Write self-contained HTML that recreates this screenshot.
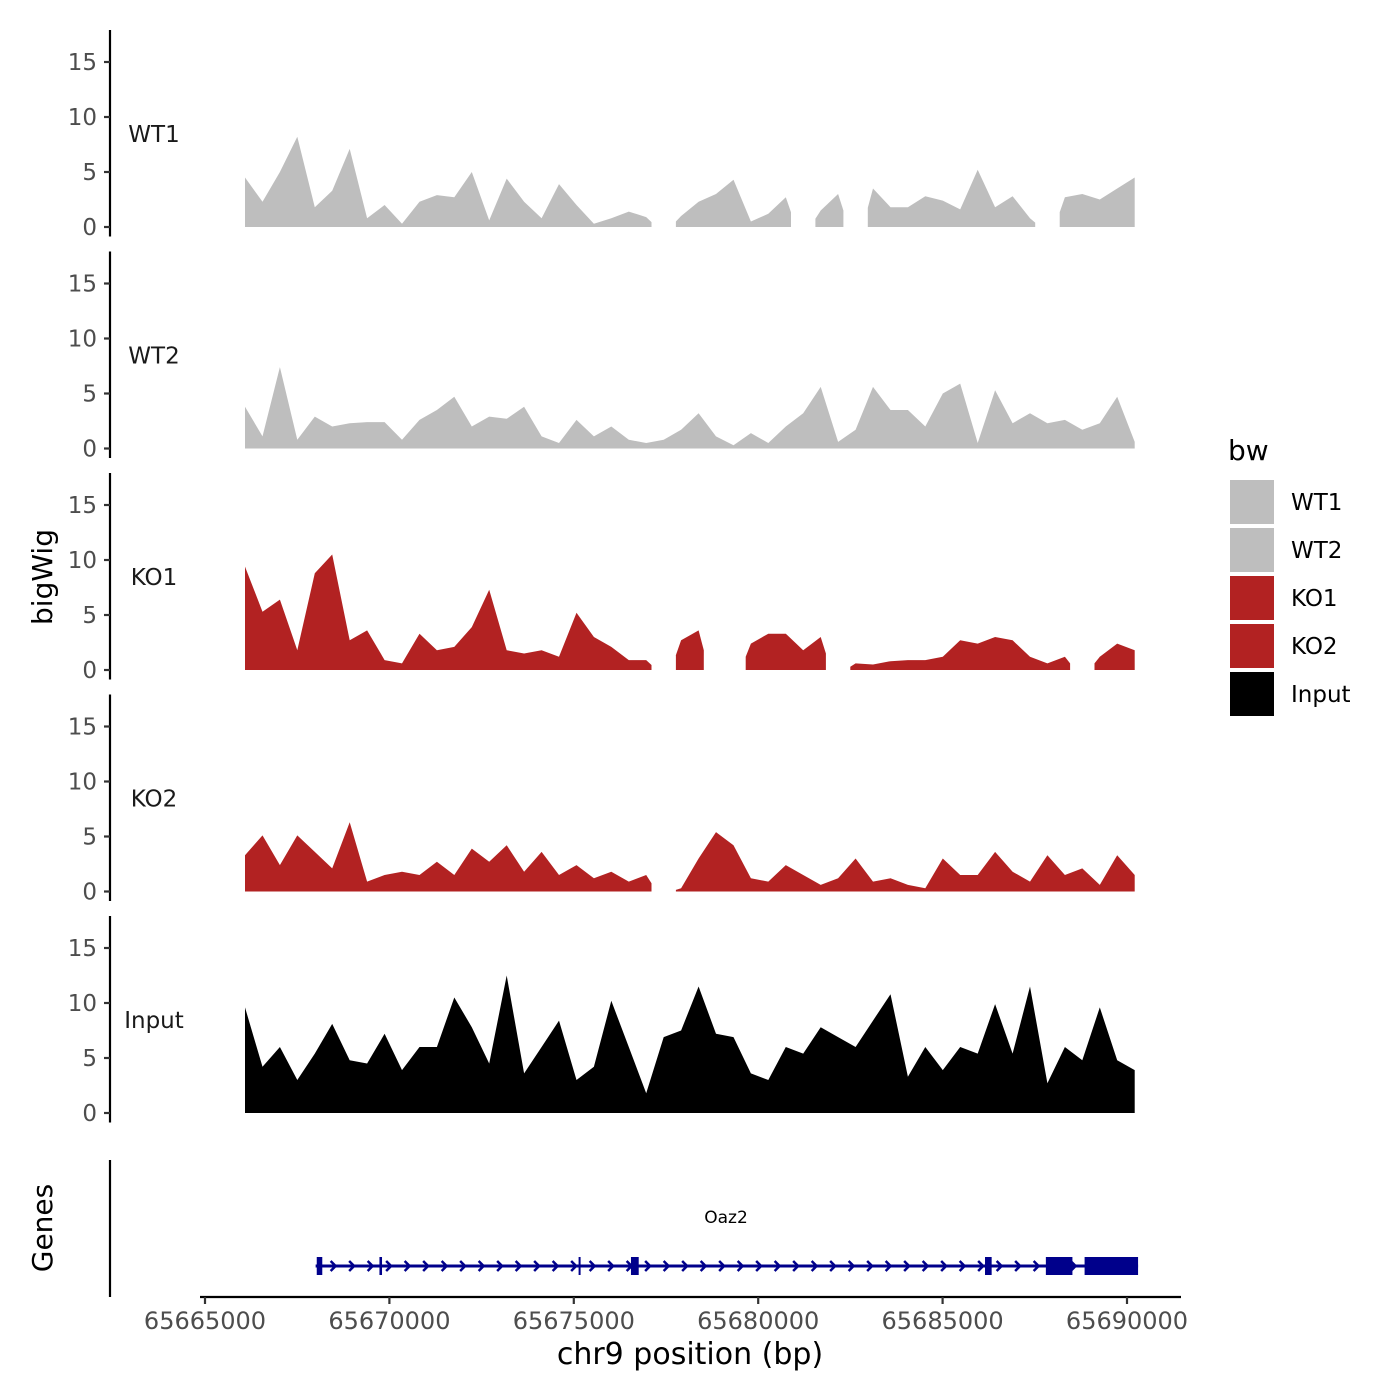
<!DOCTYPE html>
<html><head><meta charset="utf-8">
<style>
html,body{margin:0;padding:0;background:#fff;}
svg{display:block;font-family:"DejaVu Sans","Liberation Sans",sans-serif;}
</style></head>
<body>
<svg id="chart" width="1400" height="1400" viewBox="0 0 1400 1400" xmlns="http://www.w3.org/2000/svg">
<rect width="1400" height="1400" fill="#fff"/>
<g id="tracks"></g>
<g id="genes"></g>
<g id="xaxis"></g>
<text x="52" y="577" font-size="28" text-anchor="middle" transform="rotate(-90 52 577)">bigWig</text>
<text x="52" y="1228" font-size="28" text-anchor="middle" transform="rotate(-90 52 1228)">Genes</text>
<text x="690" y="1364" font-size="30" text-anchor="middle">chr9 position (bp)</text>
<g id="legend"></g>
</svg>
<script>
// ---- data ----
const trackNames = ["WT1","WT2","KO1","KO2","Input"];
const trackColors = ["#bebebe","#bebebe","#b22222","#b22222","#000000"];
const binStart = 65666085;
const binSize = 473;
const wt1 = [4.5,2.3,5,8.2,1.8,3.3,7.1,0.8,2,0.3,2.3,2.9,2.7,5.0,0.6,4.4,2.3,0.8,3.9,2.0,0.3,0.8,1.4,0.9,null,1.0,2.3,3.0,4.3,0.5,1.2,2.7,null,1.5,3.0,null,3.5,1.8,1.8,2.8,2.4,1.6,5.2,1.8,2.8,0.8,null,2.7,3.0,2.5,3.5,4.5];
const wt2 = [3.8,1.1,7.4,0.8,2.9,2.0,2.3,2.4,2.4,0.8,2.6,3.5,4.7,2.0,2.9,2.7,3.8,1.1,0.5,2.6,1.1,2.0,0.8,0.5,0.8,1.7,3.2,1.1,0.3,1.4,0.5,2.0,3.2,5.6,0.6,1.7,5.6,3.5,3.5,2.0,5.0,5.9,0.5,5.3,2.3,3.2,2.3,2.6,1.7,2.3,4.7,0.6];
const ko1 = [9.4,5.3,6.4,1.8,8.8,10.5,2.7,3.6,0.9,0.6,3.3,1.8,2.1,3.9,7.3,1.8,1.5,1.8,1.2,5.2,3.0,2.1,0.9,0.9,null,2.7,3.6,null,null,2.4,3.3,3.3,1.8,3.0,null,0.6,0.5,0.8,0.9,0.9,1.2,2.7,2.4,3.0,2.7,1.2,0.6,1.2,null,1.2,2.4,1.8];
const ko2 = [3.3,5.1,2.4,5.1,3.6,2.1,6.3,0.9,1.5,1.8,1.5,2.7,1.5,3.9,2.7,4.2,1.8,3.6,1.5,2.4,1.2,1.8,0.9,1.5,null,0.3,3.0,5.4,4.2,1.2,0.9,2.4,1.5,0.6,1.2,3.0,0.9,1.2,0.6,0.3,3.0,1.5,1.5,3.6,1.8,0.9,3.3,1.5,2.1,0.6,3.3,1.5];
const input = [9.6,4.2,6.0,3.0,5.4,8.1,4.8,4.5,7.2,3.9,6.0,6.0,10.5,7.8,4.5,12.5,3.6,6.0,8.4,3.0,4.2,10.2,6.0,1.8,6.9,7.5,11.5,7.2,6.9,3.6,3.0,6.0,5.4,7.8,6.9,6.0,8.4,10.8,3.3,6.0,3.9,6.0,5.4,9.9,5.4,11.5,2.7,6.0,4.8,9.6,4.8,3.9];
const trackValues = [wt1,wt2,ko1,ko2,input];
const yTicks = [0,5,10,15];
const xTicks = [65665000,65670000,65675000,65680000,65685000,65690000];
const xTickLabels = ["65665000","65670000","65675000","65680000","65685000","65690000"];
const geneStart = 65668000;
const geneEnd = 65690300;
const exonStarts = [65668030,65669730,65675130,65676550,65686150,65687800,65688850];
const exonEnds   = [65668180,65669800,65675170,65676760,65686330,65688520,65690300];

// ---- scales ----
const X0 = 205, X1 = 1127;
function xs(bp){ return X0 + (bp - 65665000) * (X1 - X0) / 25000; }
const panelZero = [227, 448.5, 670, 891.5, 1113];
function ys(p, v){ return panelZero[p] - v * 11; }
const stepPx = xs(binStart + binSize) - xs(binStart);

const NS = "http://www.w3.org/2000/svg";
function mk(tag, attrs, parent){
  const e = document.createElementNS(NS, tag);
  for (const k in attrs) e.setAttribute(k, attrs[k]);
  parent.appendChild(e); return e;
}
const tracks = document.getElementById('tracks');
trackNames.forEach((name, p) => {
  const g = mk('g', {}, tracks);
  
  
  const ax = mk('line', {x1:110, x2:110, y1:panelZero[p]-197, y2:panelZero[p]+9.5, stroke:'#000', 'stroke-width':2.2}, g);
  
  
  yTicks.forEach(t => {
    const tk = mk('line', {x1:104, x2:110, y1:ys(p,t), y2:ys(p,t), stroke:'#333', 'stroke-width':2.2}, g);
    
    
    const tl = mk('text', {x:97, y:ys(p,t)+8, 'font-size':23, fill:'#4d4d4d', 'text-anchor':'end'}, g);
    tl.textContent = t;
    
    
  });
  const lab = mk('text', {x:154, y:panelZero[p]-85, 'font-size':23, fill:'#1a1a1a', 'text-anchor':'middle'}, g);
  lab.textContent = name;
  
  
  const vals = trackValues[p];
  const n = vals.length;
  let seg = [];
  let startIdx = 0, endIdx = 0;
  const flush = () => {
    if (seg.length) {
      let x0 = seg[0][0], xn = seg[seg.length-1][0];
      const extL = startIdx > 0 ? stepPx*0.3 : 0;
      const extR = endIdx < n-1 ? stepPx*0.3 : 0;
      let d = 'M' + (x0-extL).toFixed(1) + ',' + panelZero[p];
      if (extL) d += 'L' + (x0-extL).toFixed(1) + ',' + (seg[0][1] + (panelZero[p]-seg[0][1])*0.5).toFixed(1);
      seg.forEach(q => d += 'L' + q[0].toFixed(1) + ',' + q[1].toFixed(1));
      if (extR) d += 'L' + (xn+extR).toFixed(1) + ',' + (seg[seg.length-1][1] + (panelZero[p]-seg[seg.length-1][1])*0.5).toFixed(1);
      d += 'L' + (xn+extR).toFixed(1) + ',' + panelZero[p] + 'Z';
      const a = mk('path', {d:d, fill:trackColors[p]}, g);
      
      
    }
    seg = [];
  };
  vals.forEach((v, i) => {
    const x = xs(binStart + i * binSize);
    if (v === null) { flush(); return; }
    if (!seg.length) startIdx = i;
    endIdx = i;
    seg.push([x, ys(p, v)]);
  });
  flush();
});

// genes panel
const gp = document.getElementById('genes');
const gl = mk('line', {x1:110, x2:110, y1:1160, y2:1297, stroke:'#000', 'stroke-width':2.2}, gp);


const gy = 1266;
const bb = mk('line', {x1:xs(geneStart), x2:xs(geneEnd), y1:gy, y2:gy, stroke:'#00008b', 'stroke-width':3}, gp);


for (let x = xs(geneStart) + 18; x < xs(geneEnd) - 4; x += 18.5) {
  const ar = mk('path', {d:'M'+(x-3)+','+(gy-5)+'L'+(x+2)+','+gy+'L'+(x-3)+','+(gy+5), fill:'none', stroke:'#00008b', 'stroke-width':2.5}, gp);
  
  
}
exonStarts.forEach((s, i) => {
  const h = 18;
  const ex = mk('rect', {x:xs(s), y:gy-h/2, width:Math.max(2, xs(exonEnds[i])-xs(s)), height:h, fill:'#00008b'}, gp);
  
  
});
const gn = mk('text', {x:726, y:1223, 'font-size':17, 'text-anchor':'middle', fill:'#000'}, gp);
gn.textContent = 'Oaz2';



// x axis
const xa = document.getElementById('xaxis');
const xl = mk('line', {x1:200, x2:1181, y1:1297, y2:1297, stroke:'#000', 'stroke-width':2.2}, xa);


xTicks.forEach((t, i) => {
  const tk = mk('line', {x1:xs(t), x2:xs(t), y1:1297, y2:1304, stroke:'#333', 'stroke-width':2.2}, xa);
  
  
  const tl = mk('text', {x:xs(t), y:1329, 'font-size':24, fill:'#4d4d4d', 'text-anchor':'middle'}, xa);
  tl.textContent = xTickLabels[i];
  
  
});

// legend
const lg = document.getElementById('legend');
const lt = mk('text', {x:1228, y:460, 'font-size':28, fill:'#000'}, lg);
lt.textContent = 'bw';


trackNames.forEach((n, i) => {
  const k = mk('rect', {x:1230, y:480 + i*48, width:44, height:44, fill:trackColors[i]}, lg);
  
  
  const t = mk('text', {x:1291, y:510 + i*48, 'font-size':23, fill:'#000'}, lg);
  t.textContent = n;
  
  
});
</script>
</body></html>
